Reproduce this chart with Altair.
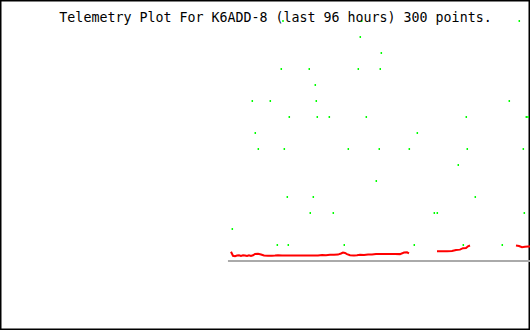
import altair as alt
import pandas as pd

TITLE = "Telemetry Plot For K6ADD-8 (last 96 hours) 300 points."

# Green telemetry channel (hours relative to now, value)
green_hours = [-44.74, -30.48, -1.94,
               -30.74,
               -26.93,
               -45.05, -39.98, -31.10, -27.12,
               -38.89,
               -50.30, -47.04, -38.71, -3.75,
               -43.60, -38.53, -36.35, -29.65, -11.54, -0.67, -0.36,
               -49.76, -20.41,
               -49.21, -44.50, -32.91, -27.30, -21.86, -11.36, -1.21,
               -12.99,
               -27.84,
               -43.96, -39.25, -9.91,
               -39.80, -35.63, -17.33, -16.79, -1.03,
               -53.92,
               -45.77, -43.78, -33.64, -20.96, -12.08, -5.02]
green_vals = [15, 15, 15,
              14,
              13,
              12, 12, 12, 12,
              11,
              10, 10, 10, 10,
              9, 9, 9, 9, 9, 9, 9,
              8, 8,
              7, 7, 7, 7, 7, 7, 7,
              6,
              5,
              4, 4, 4,
              3, 3, 3, 3, 3,
              2,
              1, 1, 1, 1, 1, 1]

# Red telemetry channel, three runs separated by gaps
red_hours = [-54.16, -53.80, -53.43, -53.07, -52.71, -52.35, -51.98, -51.62, -51.26,
             -50.90, -50.54, -50.17, -49.81, -49.27, -48.72, -48.18, -47.46, -46.73,
             -46.19, -45.65, -44.92, -43.47, -41.66, -39.85, -38.40, -37.68, -36.95,
             -36.23, -35.50, -34.78, -34.23, -33.87, -33.51, -33.15, -32.60, -31.88,
             -31.34, -30.79, -30.07, -29.34, -28.62, -27.89, -27.17, -26.26, -25.36,
             -24.45, -23.55, -22.82, -22.28, -21.92,
             -16.85, -15.94, -15.03, -14.13, -13.40, -12.68, -12.14, -11.59, -11.23, -10.87,
             -2.54, -1.99, -1.45, -0.91, -0.36, 0.00]
red_vals = [0.58, 0.325, 0.30, 0.34, 0.36, 0.31, 0.36, 0.34, 0.31,
            0.36, 0.31, 0.36, 0.44, 0.45, 0.41, 0.34, 0.33, 0.33,
            0.34, 0.36, 0.34, 0.34, 0.34, 0.34, 0.35, 0.38, 0.36,
            0.39, 0.39, 0.40, 0.47, 0.53, 0.50, 0.43, 0.36, 0.34,
            0.36, 0.39, 0.38, 0.41, 0.40, 0.43, 0.44, 0.44, 0.44,
            0.44, 0.43, 0.53, 0.54, 0.47,
            0.61, 0.61, 0.61, 0.62, 0.69, 0.71, 0.80, 0.81, 0.92, 0.97,
            0.97, 0.94, 0.86, 0.89, 0.91, 0.91]
red_seg = [1] * 50 + [2] * 10 + [3] * 6

# Baseline span (hours)
base_start = [-54.71]
base_end = [0.0]

green_df = pd.DataFrame({"h": green_hours, "v": green_vals})
red_df = pd.DataFrame({"h": red_hours, "v": red_vals, "seg": red_seg})
base_df = pd.DataFrame({"h": base_start, "h2": base_end, "v": [0]})
title_df = pd.DataFrame({"t": [TITLE]})

xs = alt.Scale(domain=[-96, 0], nice=False, zero=False)
ys = alt.Scale(domain=[0, 16], range=[261, 5], nice=False, zero=False)

base = alt.Chart(base_df).mark_rule(color="#aaaaaa", strokeWidth=2).encode(
    x=alt.X("h:Q", scale=xs, axis=None),
    x2="h2:Q",
    y=alt.Y("v:Q", scale=ys, axis=None),
)

red = alt.Chart(red_df).mark_line(color="#ff0000", strokeWidth=2).encode(
    x=alt.X("h:Q", scale=xs, axis=None),
    y=alt.Y("v:Q", scale=ys, axis=None),
    detail="seg:N",
)

green = alt.Chart(green_df).mark_tick(
    color="#00ff00", orient="vertical", size=2, thickness=1.5, opacity=1
).encode(
    x=alt.X("h:Q", scale=xs, axis=None),
    y=alt.Y("v:Q", scale=ys, axis=None),
)

title = alt.Chart(title_df).mark_text(
    font="DejaVu Sans Mono", fontSize=13.3, color="black",
    align="center", baseline="alphabetic"
).encode(
    text="t:N",
    x=alt.value(275.5),
    y=alt.value(22),
)

chart = alt.layer(base, red, green, title).properties(
    width=530, height=330,
    autosize=alt.AutoSizeParams(type="none"),
    padding=0,
).configure_view(stroke="black", strokeWidth=3)

chart.save("out.html", embed_options={"renderer": "svg", "actions": False})
